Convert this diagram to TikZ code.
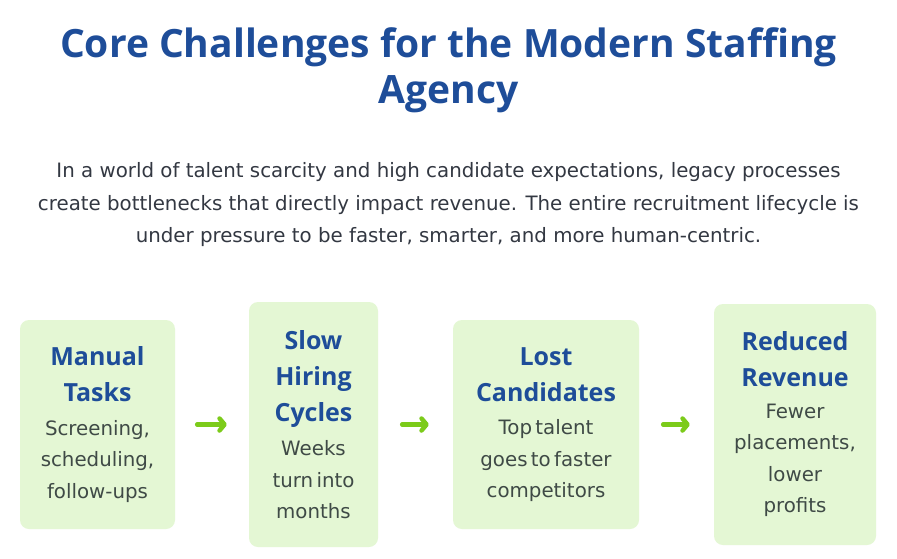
\documentclass[tikz,border=0pt]{standalone}
\usepackage{fontspec}
\setmainfont{DejaVu Sans}
\newfontfamily\headfam{Open Sans}
\newfontfamily\bodyfam{DejaVu Sans}
\usetikzlibrary{arrows.meta}
\definecolor{titleblue}{HTML}{1E4D99}
\definecolor{paratext}{HTML}{333842}
\definecolor{boxtext}{HTML}{3F4A46}
\definecolor{boxfill}{HTML}{E4F7D4}
\definecolor{arrowgreen}{HTML}{7CCB1A}
\newcommand{\hdfont}{\headfam\fontsize{25}{36}\selectfont\bfseries\color{titleblue}}
\newcommand{\bdfont}{\bodyfam\mdseries\fontsize{19.8}{31.5}\selectfont\color{boxtext}}
\tikzset{
  titletext/.style={anchor=base, inner sep=0pt, text=titleblue, font=\headfam\fontsize{39}{46}\selectfont\bfseries},
  paraline/.style={anchor=base, inner sep=0pt, text=paratext, font=\bodyfam\fontsize{19.8}{33}\selectfont},
  cardbox/.style={fill=boxfill, draw=none, rounded corners=9pt, align=center, inner sep=0pt},
  flowarrow/.style={draw=arrowgreen, line width=4.5pt, line cap=round, -{Straight Barb[length=5pt,width=12pt,line cap=round,line join=round]}}
}
\begin{document}
\begin{tikzpicture}[x=1pt,y=-1pt]
\useasboundingbox[fill=white] (0,0) rectangle (897,558);
\node[titletext] (t1) at (448.5,57) {Core Challenges for the Modern Staffing};
\node[titletext] (t2) at (448.5,103) {Agency};
\node[paraline] (p1) at (448.5,177) {In a world of talent scarcity and high candidate expectations, legacy processes};
\node[paraline] (p2) at (448.5,210) {create bottlenecks that directly impact revenue. The entire recruitment lifecycle is};
\node[paraline] (p3) at (448.5,242) {under pressure to be faster, smarter, and more human-centric.};

\node[cardbox, minimum width=155pt, minimum height=209pt, text width=150pt] (b1) at (97.5,424.5)
  {{\hdfont Manual\\Tasks\par}\vspace{2pt}{\bdfont Screening,\\scheduling,\\follow-ups\par}};
\node[cardbox, minimum width=129pt, minimum height=245pt, text width=125pt] (b2) at (313.5,424.5)
  {{\hdfont Slow\\Hiring\\Cycles\par}\vspace{3pt}{\bdfont Weeks\\turn into\\months\par}};
\node[cardbox, minimum width=186pt, minimum height=209pt, text width=180pt] (b3) at (546,424.5)
  {{\hdfont Lost\\Candidates\par}\vspace{2pt}{\bdfont Top talent\\goes to faster\\competitors\par}};
\node[cardbox, minimum width=162pt, minimum height=241pt, text width=158pt] (b4) at (795,424.5)
  {{\hdfont Reduced\\Revenue\par}\vspace{0pt}{\bdfont Fewer\\placements,\\lower\\profits\par}};

\draw[flowarrow] ([xshift=22pt]b1.east) -- ([xshift=-22pt]b2.west);
\draw[flowarrow] ([xshift=24pt]b2.east) -- ([xshift=-24pt]b3.west);
\draw[flowarrow] ([xshift=24pt]b3.east) -- ([xshift=-24pt]b4.west);
\end{tikzpicture}
\end{document}
